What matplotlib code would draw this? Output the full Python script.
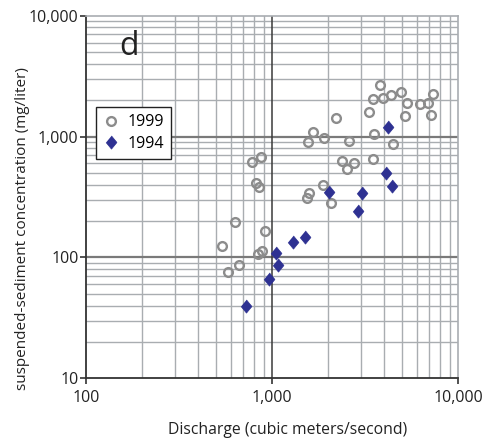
import matplotlib
matplotlib.use("Agg")
import matplotlib.pyplot as plt
from matplotlib.ticker import FixedLocator, NullFormatter, FixedFormatter
import numpy as np

plt.rcParams['font.family'] = ['Open Sans', 'DejaVu Sans']

# 1999 samples (open circles)
q_1999 = [3800, 3500, 3950, 4350, 4900, 5300, 6200, 6900, 7300, 5200, 7100,
          3300, 2200, 1660, 1560, 1900, 2580, 3530, 4470, 2360, 2760, 2520,
          3490, 780, 870, 820, 850, 1880, 1580, 1540, 2060, 634, 910, 535,
          880, 840, 660, 580]
c_1999 = [2680, 2030, 2070, 2200, 2330, 1900, 1860, 1880, 2260, 1490, 1510,
          1590, 1420, 1100, 910, 980, 920, 1060, 870, 630, 610, 540,
          650, 620, 680, 410, 380, 400, 340, 310, 283, 196, 165, 124,
          112, 107, 86, 76]

# 1994 samples (filled diamonds)
q_1994 = [4200, 4100, 4400, 2030, 3030, 2890, 1500, 1300, 1050, 1080, 957, 720]
c_1994 = [1190, 500, 390, 350, 340, 240, 147, 135, 109, 86, 66, 40]

x_ticks = [100, 1000, 10000]
x_ticklabels = ["100", "1,000", "10,000"]
y_ticks = [10, 100, 1000, 10000]
y_ticklabels = ["10", "100", "1,000", "10,000"]

fig = plt.figure(figsize=(4.91, 4.45), dpi=100)
ax = fig.add_axes([86/491, 1-378.3/445, (458.3-86)/491, (378.3-15.7)/445])
ax.set_xscale('log')
ax.set_yscale('log')
ax.set_xlim(100, 10000)
ax.set_ylim(10, 10000)

minor_col = '#a9adb1'
# minor grid lines
for dec in [100, 1000]:
    for m in range(2, 10):
        ax.axvline(dec*m, color=minor_col, lw=1.0, zorder=1)
for dec in [10, 100, 1000]:
    for m in range(2, 10):
        ax.axhline(dec*m, color=minor_col, lw=1.0, zorder=1)
# major grid
ax.axhline(100, color='#7a7a7a', lw=1.6, zorder=1.5)
ax.axhline(1000, color='#7a7a7a', lw=1.6, zorder=1.5)
ax.axvline(1000, color='#3a3a3a', lw=1.1, zorder=1.5)

for s in ['top', 'right']:
    ax.spines[s].set_color(minor_col)
    ax.spines[s].set_linewidth(1.2)
for s in ['left', 'bottom']:
    ax.spines[s].set_color('#333333')
    ax.spines[s].set_linewidth(1.3)

ax.xaxis.set_major_locator(FixedLocator(x_ticks))
ax.xaxis.set_major_formatter(FixedFormatter(x_ticklabels))
ax.yaxis.set_major_locator(FixedLocator(y_ticks))
ax.yaxis.set_major_formatter(FixedFormatter(y_ticklabels))
ax.xaxis.set_minor_locator(FixedLocator([]))
ax.yaxis.set_minor_locator(FixedLocator([]))
ax.xaxis.set_minor_formatter(NullFormatter())
ax.yaxis.set_minor_formatter(NullFormatter())
ax.tick_params(axis='both', which='major', direction='out', length=4.3,
               width=1.2, color='#333333', labelsize=11.5, labelcolor='#222222', pad=1)
ax.tick_params(axis='x', pad=4)

ax.plot(q_1999, c_1999, linestyle='none', marker='o', markersize=6.3,
        markerfacecolor='none', markeredgecolor='#8c8c8c', markeredgewidth=1.7,
        zorder=3, label='1999')
diamond = [(0, 1), (0.82, 0), (0, -1), (-0.82, 0)]
ax.plot(q_1994, c_1994, linestyle='none', marker=diamond, markersize=9.5,
        markerfacecolor='#2e3192', markeredgecolor='#2e3192', markeredgewidth=0.5,
        zorder=4, label='1994')

leg = ax.legend(loc='upper left', bbox_to_anchor=(0.027, 0.748), borderaxespad=0,
                frameon=True, fancybox=False, edgecolor='#222222', framealpha=1,
                fontsize=11.5, handlelength=1.0, handletextpad=0.5,
                borderpad=0.45, labelspacing=0.35)
leg.get_frame().set_linewidth(1.0)
leg.set_zorder(5)

ax.text(0.1155, 0.9137, 'd', transform=ax.transAxes, fontsize=23,
        ha='center', va='center', color='#222222', zorder=5)

fig.text(288/491, 1-430/445, 'Discharge (cubic meters/second)', ha='center',
         va='center', fontsize=11.3, color='#222222')
fig.text(23/491, 1-228.5/445, 'suspended-sediment concentration (mg/liter)',
         ha='center', va='center', rotation=90, fontsize=11, color='#222222')

fig.savefig('out.png', dpi=100)
